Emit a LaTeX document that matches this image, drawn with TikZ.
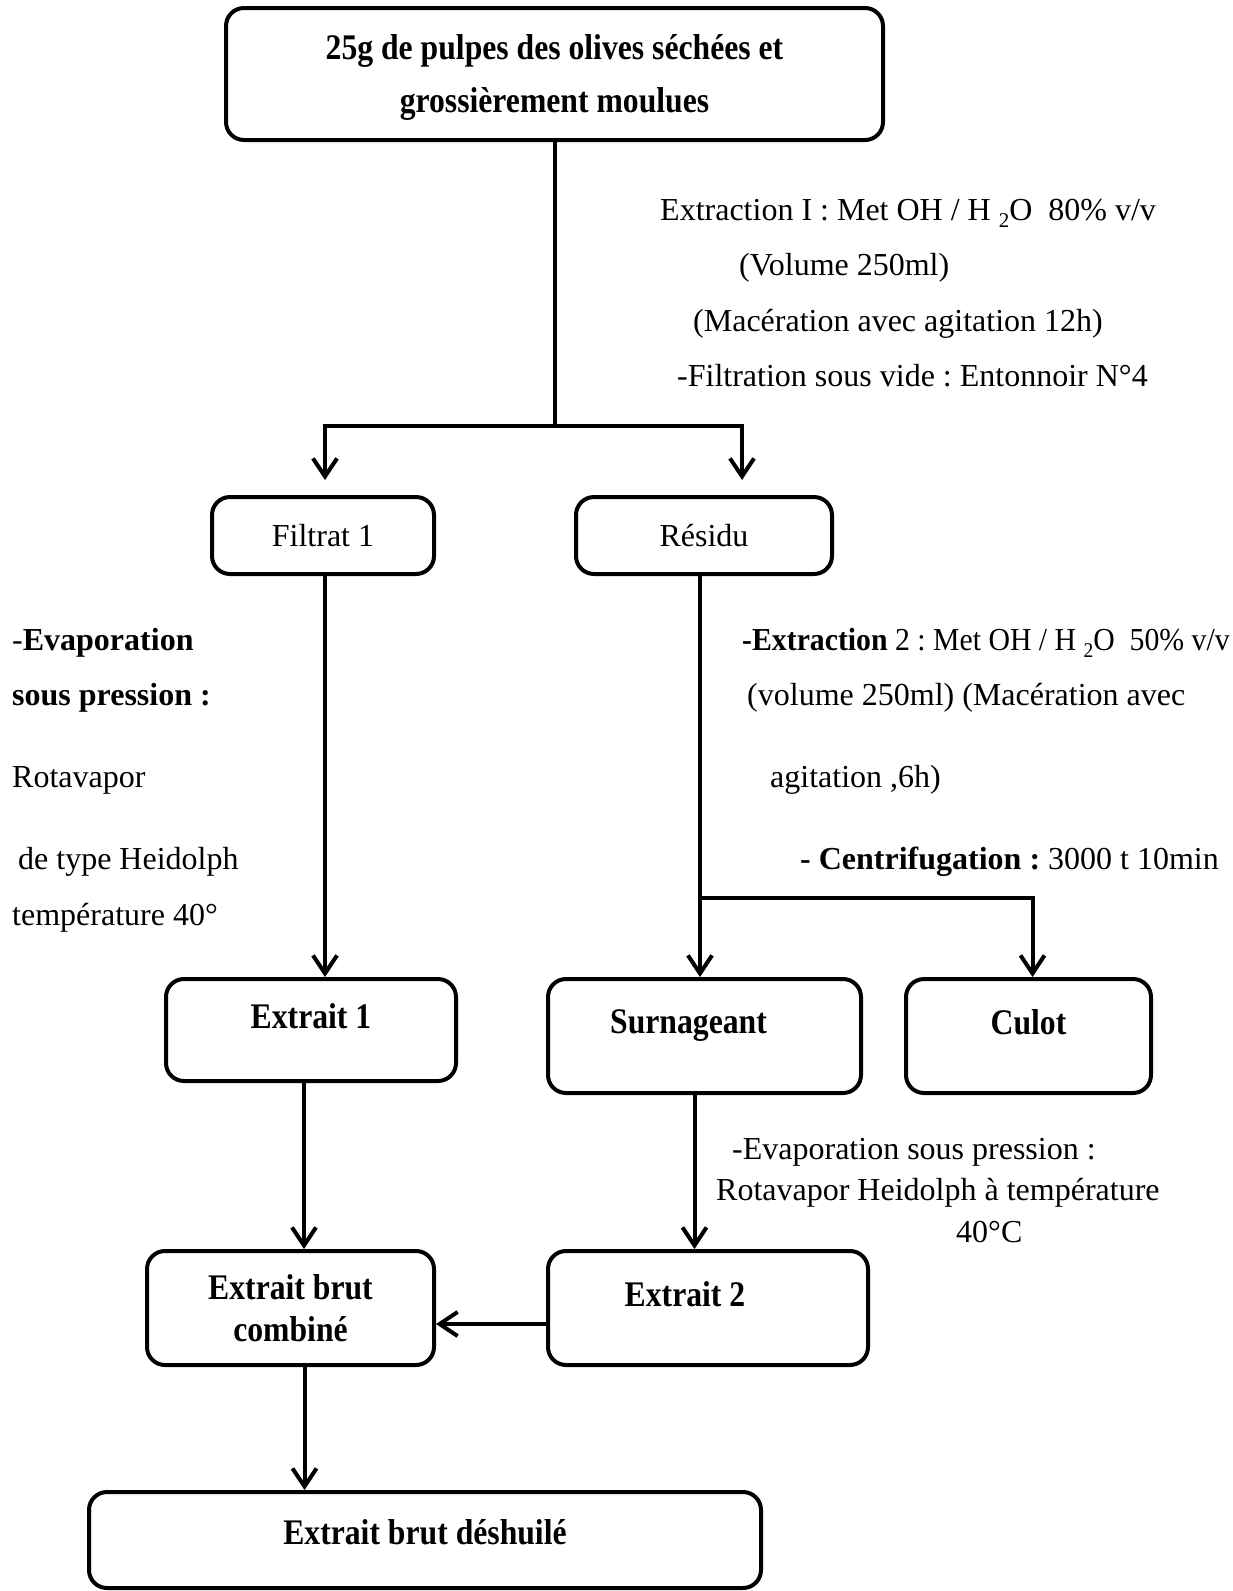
\documentclass[tikz,border=0pt]{standalone}
\usepackage{fontspec}
\setmainfont{Liberation Serif}
\newfontfamily\boxfont[FakeStretch=0.88]{Liberation Serif}
\usepackage{tikz}
\usetikzlibrary{arrows.meta}
\frenchspacing

\newcommand{\subtwo}{\raisebox{-0.22em}{\fontsize{21}{21}\selectfont 2}}

\begin{document}
\begin{tikzpicture}[x=1pt, y=-1pt,
  etape/.style={rectangle, draw, line width=4pt, rounded corners=18pt,
                align=center, inner sep=0pt},
  gras/.style={etape, font=\boxfont\bfseries\fontsize{36}{42}\selectfont},
  simple/.style={etape, font=\fontsize{32}{38}\selectfont},
  note/.style={inner sep=0pt, align=left, anchor=north west,
               font=\fontsize{32}{55.5}\selectfont},
  arr/.style={-{Straight Barb[length=18pt, width=24pt]}, line width=4pt},
  trait/.style={line width=4pt}
]
\useasboundingbox (0,0) rectangle (1233,1591);

% boites
\node[gras, font=\boxfont\bfseries\fontsize{36}{53}\selectfont,
      minimum width=657pt, minimum height=132pt, text depth=2pt] (pulpe) at (554.5,74)
      {25g de pulpes des olives séchées et\\grossièrement moulues};
\node[simple, minimum width=222pt, minimum height=77pt] (filt) at (323,535.5) {Filtrat 1};
\node[simple, minimum width=256pt, minimum height=77pt] (res)  at (704,535.5) {Résidu};
\node[gras, minimum width=290pt, minimum height=102pt, text depth=29pt] (e1) at (311,1030) {Extrait 1};
\node[gras, minimum width=313pt, minimum height=114pt, text depth=29pt] (surn) at (704.5,1036) {Surnageant\hspace*{32pt}};
\node[gras, minimum width=245pt, minimum height=114pt, text depth=29pt] (culot) at (1028.5,1036) {Culot};
\node[gras, minimum width=287pt, minimum height=114pt] (comb) at (290.5,1308) {Extrait brut\\combiné};
\node[gras, minimum width=320pt, minimum height=114pt, text depth=29pt] (ex2) at (708,1308) {Extrait 2\hspace*{46pt}};
\node[gras, minimum width=672pt, minimum height=96pt, text depth=17pt] (final) at (425,1540) {Extrait brut déshuilé};

% textes
\node[note] (ext1) at (660,199) {Extraction I : Met OH / H \subtwo O\ \ 80\%\ v/v\\
  \hspace*{79pt}(Volume 250ml)\\
  \hspace*{33pt}(Macération avec agitation 12h)\\
  \hspace*{17pt}-Filtration sous vide : Entonnoir N°4};
\node[note] (evap1) at (12,628) {-\textbf{Evaporation}\\
  \textbf{sous pression :}\\[26pt]
  Rotavapor\\[27pt]
  \hspace*{6pt}de type Heidolph\\
  température 40°};
\node[note] (ext2) at (742,628) {\scalebox{0.93}[1]{\textbf{-Extraction} 2 : Met OH / H \subtwo O\ \ 50\%\ v/v}\\
  \hspace*{5pt}(volume 250ml) (Macération avec\\[26pt]
  \hspace*{28pt}agitation ,6h)\\[27pt]
  \hspace*{58pt}\textbf{- Centrifugation :} 3000 t 10min};
\node[note, font=\fontsize{32}{41.5}\selectfont] (evap2) at (716,1138)
  {\hspace*{16pt}-Evaporation sous pression :\\
  Rotavapor Heidolph à température\\
  \hspace*{240pt}40°C};

% liaisons
\coordinate (c1) at (pulpe.south |- 0,426);
\coordinate (fin) at ([xshift=2pt, yshift=15pt]filt.north);
\coordinate (rin) at ([xshift=38pt, yshift=15pt]res.north);
\coordinate (c2) at ([xshift=-4pt]res.south |- 0,898);
\coordinate (cin) at ([xshift=4pt]culot.north);
\draw[trait] (pulpe) -- (c1);
\draw[arr] (c1) -| (fin);
\draw[arr] (c1) -| (rin);
\draw[arr] ([xshift=2pt]filt.south) -- ([xshift=2pt]filt.south |- e1.north);
\draw[arr] ([xshift=-4pt]res.south) -- ([xshift=-4pt]res.south |- surn.north);
\draw[arr] (c2) -| (cin);
\draw[arr] ([xshift=-7pt]e1.south) -- ([xshift=-7pt]e1.south |- comb.north);
\draw[arr] ([xshift=-10pt]surn.south) -- ([xshift=-10pt]surn.south |- ex2.north);
\draw[arr] ([yshift=-16pt]ex2.west) -- ([yshift=-16pt]comb.east);
\draw[arr] ([xshift=14pt]comb.south) -- ([xshift=14pt]comb.south |- final.north);
\end{tikzpicture}
\end{document}
